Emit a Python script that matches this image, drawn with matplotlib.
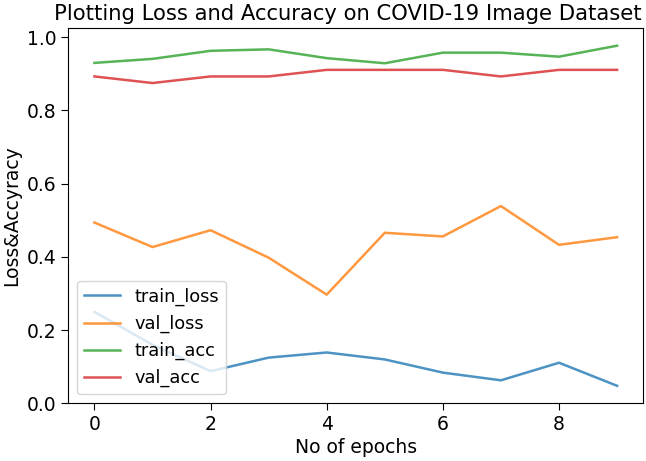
import matplotlib
matplotlib.use('Agg')
import matplotlib.pyplot as plt

epochs = list(range(10))
train_loss = [0.25, 0.16, 0.088, 0.125, 0.139, 0.12, 0.084, 0.063, 0.111, 0.048]
val_loss = [0.494, 0.427, 0.473, 0.398, 0.297, 0.466, 0.456, 0.539, 0.433, 0.454]
train_acc = [0.930, 0.941, 0.963, 0.967, 0.943, 0.929, 0.958, 0.958, 0.947, 0.977]
val_acc = [0.893, 0.875, 0.893, 0.893, 0.911, 0.911, 0.911, 0.893, 0.911, 0.911]

fig = plt.figure(figsize=(6.46, 4.61), dpi=100)
ax = fig.add_axes([0.1057, 0.125, 0.890, 0.814])

ax.plot(epochs, train_loss, label='train_loss', lw=1.8, alpha=0.8)
ax.plot(epochs, val_loss, label='val_loss', lw=1.8, alpha=0.8)
ax.plot(epochs, train_acc, label='train_acc', lw=1.8, alpha=0.8)
ax.plot(epochs, val_acc, label='val_acc', lw=1.8, alpha=0.8)

ax.set_ylim(0.0, 1.025)
ax.set_yticks([0.0, 0.2, 0.4, 0.6, 0.8, 1.0])
ax.set_xticks([0, 2, 4, 6, 8])
ax.tick_params(labelsize=13.5, length=5)

ax.set_title('Plotting Loss and Accuracy on COVID-19 Image Dataset',
             fontsize=15.2, pad=6, x=0.487)
ax.set_xlabel('No of epochs', fontsize=13.5, labelpad=3)
ax.set_ylabel('Loss&Accyracy', fontsize=13.5)
ax.legend(loc='lower left', fontsize=12.8)

fig.savefig('out.png', dpi=100)
